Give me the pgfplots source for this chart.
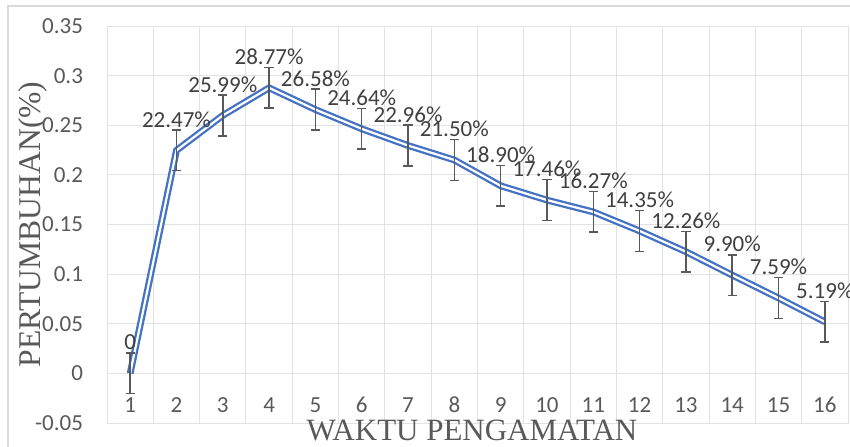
\documentclass[border=0pt]{standalone}
\usepackage{fontspec}
\setmainfont{Carlito}
\newfontfamily\titlefont{Liberation Serif}
\usepackage{pgfplots}
\pgfplotsset{compat=1.18}
\usepackage{pgfplotstable}

\definecolor{lineblue}{HTML}{4472C4}
\definecolor{gridgray}{HTML}{E2E2E2}
\definecolor{framegray}{HTML}{D9D9D9}
\definecolor{txtgray}{HTML}{595959}
\definecolor{lblgray}{HTML}{404040}

% growth per observation, error = +/- 0.0205
\pgfplotstableread{
x y err label
1 0 0.0205 0
2 0.2247 0.0205 22.47\%
3 0.2599 0.0205 25.99\%
4 0.2877 0.0205 28.77\%
5 0.2658 0.0205 26.58\%
6 0.2464 0.0205 24.64\%
7 0.2296 0.0205 22.96\%
8 0.2150 0.0205 21.50\%
9 0.1890 0.0205 18.90\%
10 0.1746 0.0205 17.46\%
11 0.1627 0.0205 16.27\%
12 0.1435 0.0205 14.35\%
13 0.1226 0.0205 12.26\%
14 0.0990 0.0205 9.90\%
15 0.0759 0.0205 7.59\%
16 0.0519 0.0205 5.19\%
}\growth

\begin{document}
\begin{tikzpicture}
\useasboundingbox (0,0) rectangle (425pt,223pt);
\draw[framegray, line width=0.6pt] (4pt,-10pt) rectangle (440pt,220pt);
\begin{axis}[
  at={(53.5pt,11.5pt)}, anchor=south west,
  scale only axis, width=370.5pt, height=198.5pt,
  xmin=0.5, xmax=16.5, ymin=-0.05, ymax=0.35,
  xtick={1,...,16},
  minor xtick={0.5,1.5,...,16.5},
  ytick={-0.05,0,0.05,0.1,0.15,0.2,0.25,0.3,0.35},
  xminorgrids=true, ymajorgrids=true,
  grid style={gridgray, line width=0.5pt},
  minor grid style={gridgray, line width=0.5pt},
  axis line style={gridgray, line width=0.5pt},
  major tick length=0pt, minor tick length=0pt,
  /pgf/number format/assume math mode=true,
  tick label style={font=\fontsize{11.5}{13}\selectfont, text=txtgray},
  xticklabel style={anchor=center, yshift=9pt},
  yticklabel style={/pgf/number format/fixed, /pgf/number format/precision=2, xshift=-8.5pt},
  xlabel={WAKTU PENGAMATAN},
  ylabel={PERTUMBUHAN(\%)},
  every axis x label/.style={at={(rel axis cs:0.4926,-0.0176)}, anchor=center,
    font=\titlefont\fontsize{15.5}{18}\selectfont, text=txtgray},
  every axis y label/.style={at={(rel axis cs:-0.0999,0.5)}, rotate=90, anchor=center,
    font=\titlefont\fontsize{15.8}{18}\selectfont, text=txtgray},
]
\addplot[lineblue, line width=1.15pt, double=white, double distance=1.1pt, mark=none]
  table[x=x, y=y] {\growth};
\addplot[draw=none, mark=none,
  nodes near coords, point meta=explicit symbolic,
  every node near coord/.append style={anchor=center, yshift=15.5pt,
    font=\fontsize{11.5}{13}\selectfont, text=lblgray},
  error bars/.cd, y dir=both, y explicit,
  error bar style={draw=txtgray, line width=0.75pt},
  error mark options={rotate=90, mark size=2.3pt, draw=txtgray, line width=0.75pt}]
  table[x=x, y=y, y error=err, meta=label] {\growth};
\end{axis}
\end{tikzpicture}
\end{document}
